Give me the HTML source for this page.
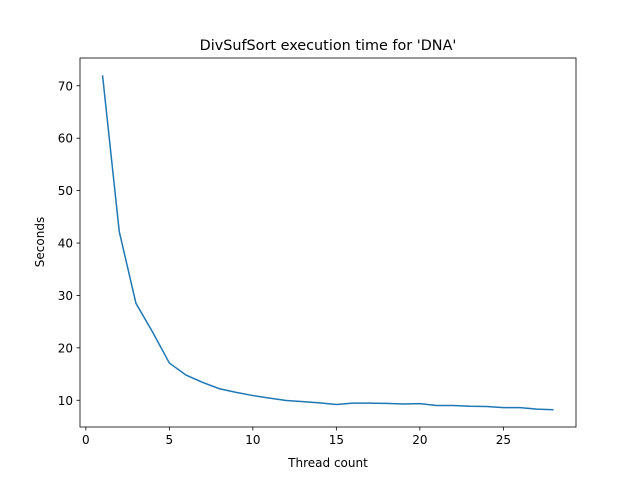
<!DOCTYPE html>
<html><head><meta charset="utf-8"><style>
body{margin:0;background:#fff;}
svg{display:block;font-family:"DejaVu Sans","Liberation Sans",sans-serif;}
</style></head><body>
<svg id="chart" width="640" height="480">
<rect width="640" height="480" fill="#fff"/>
<text x="328" y="50" text-anchor="middle" font-size="14.4">DivSufSort execution time for 'DNA'</text>
<g id="plot"></g>
<rect x="80" y="58" width="496" height="369" fill="none" stroke="#000" stroke-width="0.8"/>
<text x="328" y="467" text-anchor="middle" font-size="12">Thread count</text>
<text transform="translate(44,242) rotate(-90)" text-anchor="middle" font-size="12">Seconds</text>
</svg>
<script>
const threads=[1,2,3,4,5,6,7,8,9,10,11,12,13,14,15,16,17,18,19,20,21,22,23,24,25,26,27,28];
const seconds=[72,42.2,28.5,23,17.1,14.8,13.4,12.2,11.5,10.9,10.4,9.95,9.75,9.5,9.2,9.45,9.45,9.4,9.3,9.35,9.0,9.0,8.85,8.8,8.6,8.6,8.3,8.2];
const xTicks=[0,5,10,15,20,25];
const yTicks=[10,20,30,40,50,60,70];
const L=80,R=576,T=58,B=427;
const xmin=-0.35,xmax=29.35,ymin=4.9,ymax=75.3;
const sx=v=>L+(v-xmin)/(xmax-xmin)*(R-L);
const sy=v=>B-(v-ymin)/(ymax-ymin)*(B-T);
const g=document.getElementById('plot');
const ns='http://www.w3.org/2000/svg';
xTicks.forEach(t=>{
 const l=document.createElementNS(ns,'line');
 
 
 l.setAttribute('x1',sx(t));l.setAttribute('x2',sx(t));l.setAttribute('y1',B);l.setAttribute('y2',B+3.5);l.setAttribute('stroke','#000');l.setAttribute('stroke-width','0.8');g.appendChild(l);
 const s=document.createElementNS(ns,'text');
 
 
 s.setAttribute('x',sx(t));s.setAttribute('y',B+17);s.setAttribute('text-anchor','middle');s.setAttribute('font-size','12');s.textContent=t;g.appendChild(s);
});
yTicks.forEach(t=>{
 const l=document.createElementNS(ns,'line');
 
 
 l.setAttribute('x1',L-3.5);l.setAttribute('x2',L);l.setAttribute('y1',sy(t));l.setAttribute('y2',sy(t));l.setAttribute('stroke','#000');l.setAttribute('stroke-width','0.8');g.appendChild(l);
 const s=document.createElementNS(ns,'text');
 
 
 s.setAttribute('x',L-7);s.setAttribute('y',sy(t)+4.5);s.setAttribute('text-anchor','end');s.setAttribute('font-size','12');s.textContent=t;g.appendChild(s);
});
const p=document.createElementNS(ns,'polyline');


p.setAttribute('points',threads.map((t,i)=>sx(t)+','+sy(seconds[i])).join(' '));
p.setAttribute('fill','none');p.setAttribute('stroke','#1f77b4');p.setAttribute('stroke-width','1.5');
g.appendChild(p);
</script>
</body></html>
